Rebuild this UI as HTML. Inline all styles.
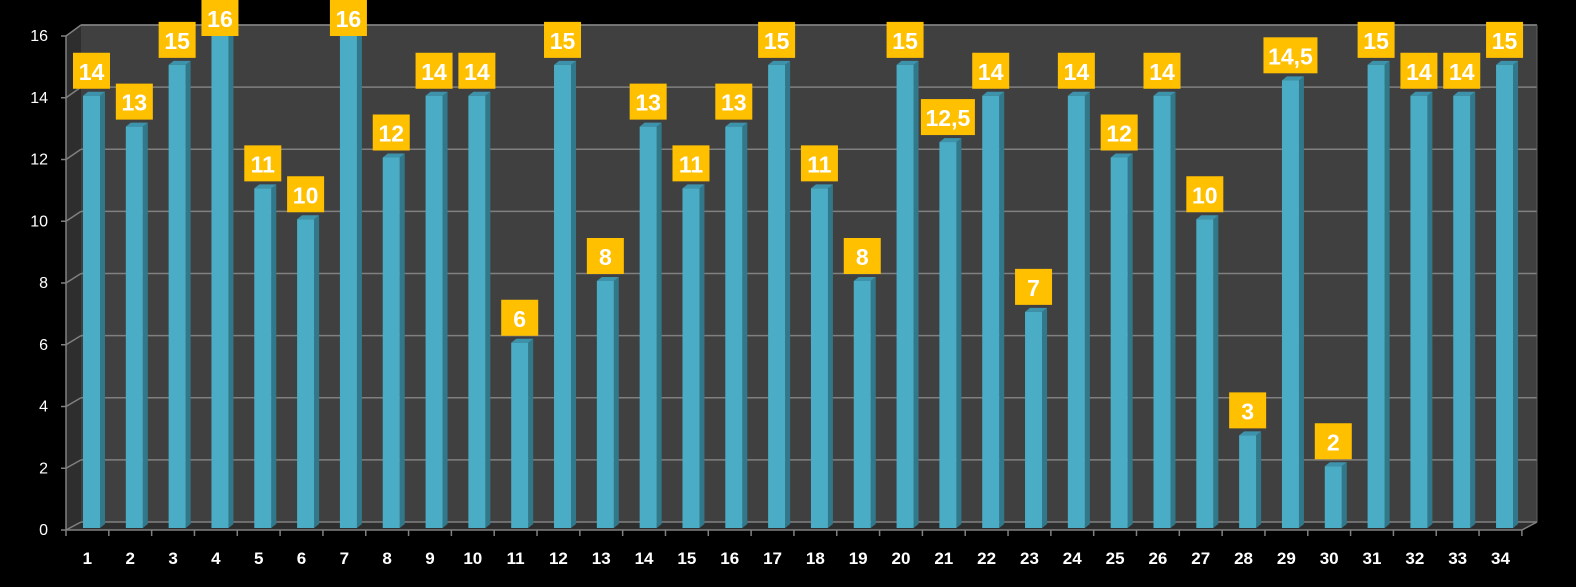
<!DOCTYPE html>
<html><head><meta charset="utf-8">
<style>
html,body{margin:0;padding:0;background:#000;}
svg{display:block;}
text{font-family:"Liberation Sans",sans-serif;}
</style></head>
<body>
<svg id="c" width="1576" height="587" xmlns="http://www.w3.org/2000/svg">
<rect width="1576" height="587" fill="#000"/>
<rect x="81" y="25" width="1456" height="497" fill="#404040"/>
<polygon points="66,36 81,25 81,522 66,530" fill="#2e2e2e"/>
<polygon points="66,530 81,522 1537,522 1522,530" fill="#2e2e2e"/>
<g id="g"></g>
</svg>
<script>
(function(){
var vals=[14,13,15,16,11,10,16,12,14,14,6,15,8,13,11,13,15,11,8,15,12.5,14,7,14,12,14,10,3,14.5,2,15,14,14,15];
var ns="http://www.w3.org/2000/svg",g=document.getElementById('g');
function el(t,a,txt){var e=document.createElementNS(ns,t);for(var k in a)e.setAttribute(k,a[k]);if(txt!==undefined)e.textContent=txt;g.appendChild(e);return e;}
for(var v=0;v<=16;v+=2){
 var yb=522-v*31.06, yf=530-v*30.875;
 el('line',{x1:81,y1:yb,x2:1537,y2:yb,stroke:'#808080','stroke-width':1.5});
 el('line',{x1:66,y1:yf,x2:81,y2:yb,stroke:'#808080','stroke-width':1.5});
 el('line',{x1:61,y1:yf,x2:66,y2:yf,stroke:'#808080','stroke-width':1.5});
 el('text',{x:48,y:yf+5,'text-anchor':'end','font-size':16,fill:'#fff'},String(v));
}
el('line',{x1:66,y1:36,x2:66,y2:530,stroke:'#808080','stroke-width':1.5});
el('line',{x1:81,y1:25,x2:1537,y2:25,stroke:'#808080','stroke-width':1.5});
el('line',{x1:1537,y1:25,x2:1537,y2:522,stroke:'#606060','stroke-width':1});
el('line',{x1:66,y1:530,x2:1522,y2:530,stroke:'#808080','stroke-width':1.5});
el('line',{x1:1522,y1:530,x2:1537,y2:522,stroke:'#808080','stroke-width':1.5});
var w=42.82;
for(var i=0;i<=34;i++){var tx=66+w*i;el('line',{x1:tx,y1:530,x2:tx,y2:536,stroke:'#808080','stroke-width':1.5});}
for(var j=0;j<34;j++){
 var val=vals[j],bx=66+w*j+17,bw=17,ty=528-val*30.875,bot=528;
 el('polygon',{points:[bx+bw,ty,bx+bw+5,ty-4,bx+bw+5,bot-4,bx+bw,bot].join(','),fill:'#31788b'});
 el('polygon',{points:[bx,ty,bx+5,ty-4,bx+bw+5,ty-4,bx+bw,ty].join(','),fill:'#3d93ab'});
 el('rect',{x:bx,y:ty,width:bw,height:bot-ty,fill:'#4bacc6'});
 var lab=String(val).replace('.',',');
 var lw=lab.length>2?54:37,cx=bx+bw/2;
 var by=Math.max(0,ty-43);
 el('rect',{x:cx-lw/2,y:by,width:lw,height:36,fill:'#ffc000'});
 el('text',{x:cx,y:by+27,'text-anchor':'middle','font-size':23,'font-weight':'bold',fill:'#fff'},lab);
 el('text',{x:66+w*j+w/2,y:564,'text-anchor':'middle','font-size':17,'font-weight':'bold',fill:'#fff'},String(j+1));
}
})();
</script>
</body></html>
